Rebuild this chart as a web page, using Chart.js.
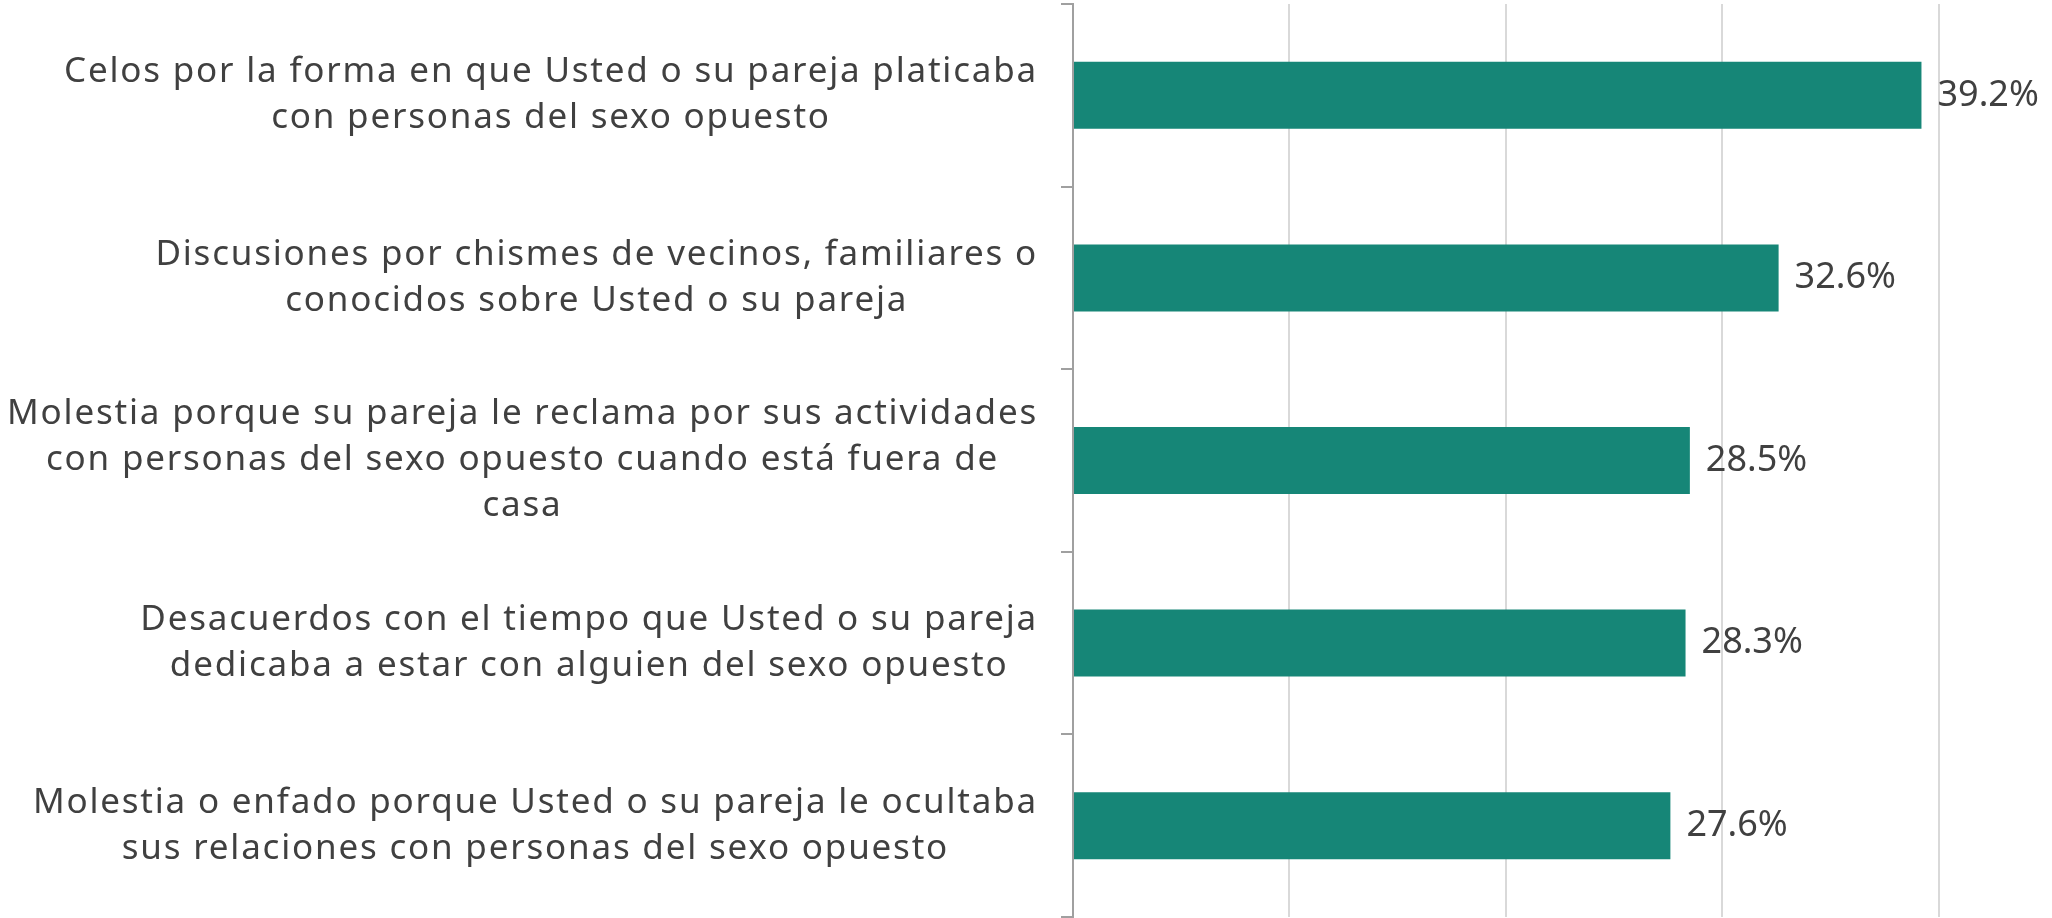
<!DOCTYPE html>
<html>
<head>
<meta charset="utf-8">
<script src="https://cdn.jsdelivr.net/npm/chart.js@4"></script>
<style>
  html, body { margin: 0; padding: 0; background: #fff; }
  #wrap { width: 2052px; height: 918px; }
</style>
</head>
<body>
<div id="wrap"><canvas id="grafico"></canvas></div>
<script>
const categorias = [
  ['Celos por la forma en que Usted o su pareja platicaba', 'con personas del sexo opuesto'],
  ['Discusiones por chismes de vecinos, familiares o', 'conocidos sobre Usted o su pareja'],
  ['Molestia porque su pareja le reclama por sus actividades', 'con personas del sexo opuesto cuando está fuera de', 'casa'],
  ['Desacuerdos con el tiempo que Usted o su pareja', 'dedicaba a estar con alguien del sexo opuesto'],
  ['Molestia o enfado porque Usted o su pareja le ocultaba', 'sus relaciones con personas del sexo opuesto']
];
const porcentajes = [39.2, 32.6, 28.5, 28.3, 27.6];

const colorTexto = '#404040';

// etiquetas de categoria (bloque alineado a la derecha, lineas centradas)
const etiquetasY = {
  id: 'etiquetasY',
  afterDraw(chart) {
    const c = chart.ctx;
    const esc = chart.scales.y;
    c.save();
    c.font = '35px "Noto Sans", sans-serif';
    c.letterSpacing = '1.8px';
    c.fillStyle = colorTexto;
    c.textAlign = 'center';
    c.textBaseline = 'middle';
    categorias.forEach((lineas, i) => {
      const anchos = lineas.map(l => c.measureText(l).width);
      const maxW = Math.max(...anchos);
      const derecha = chart.chartArea.left - 35;
      const cx = derecha - maxW / 2;
      const yc = esc.getPixelForTick(i);
      const alto = 46;
      lineas.forEach((l, j) => {
        c.fillText(l, cx, yc + (j - (lineas.length - 1) / 2) * alto);
      });
    });
    c.restore();
  }
};

// etiquetas de valor al final de cada barra
const etiquetasValor = {
  id: 'etiquetasValor',
  afterDatasetsDraw(chart) {
    const c = chart.ctx;
    c.save();
    c.font = '36px "Noto Sans", sans-serif';
    c.fillStyle = colorTexto;
    c.textAlign = 'left';
    c.textBaseline = 'middle';
    chart.getDatasetMeta(0).data.forEach((barra, i) => {
      c.fillText(porcentajes[i].toFixed(1) + '%', barra.x + 16, barra.y);
    });
    c.restore();
  }
};

new Chart(document.getElementById('grafico'), {
  type: 'bar',
  data: {
    labels: categorias,
    datasets: [{
      data: porcentajes,
      backgroundColor: '#168677',
      borderWidth: 0,
      barPercentage: 0.367,
      categoryPercentage: 1
    }]
  },
  options: {
    indexAxis: 'y',
    responsive: true,
    maintainAspectRatio: false,
    animation: false,
    layout: { padding: { top: 4, right: 5, bottom: 1, left: 0 } },
    plugins: {
      legend: { display: false },
      tooltip: { enabled: false }
    },
    scales: {
      x: {
        min: 0,
        max: 45,
        ticks: { display: false, stepSize: 10 },
        border: { display: false },
        grid: {
          drawTicks: false,
          lineWidth: 2,
          color: ctx => (ctx.tick && ctx.tick.value > 0 && ctx.tick.value <= 40) ? '#d9d9d9' : 'rgba(0,0,0,0)'
        },
        afterFit: s => { s.height = 0; }
      },
      y: {
        ticks: { display: false },
        border: { display: true, color: '#a0a0a0', width: 2 },
        grid: {
          offset: true,
          drawOnChartArea: false,
          drawTicks: true,
          tickLength: 12,
          color: '#a0a0a0',
          lineWidth: 2
        },
        afterFit: s => { s.width = 1073; }
      }
    }
  },
  plugins: [etiquetasY, etiquetasValor]
});
</script>
</body>
</html>
